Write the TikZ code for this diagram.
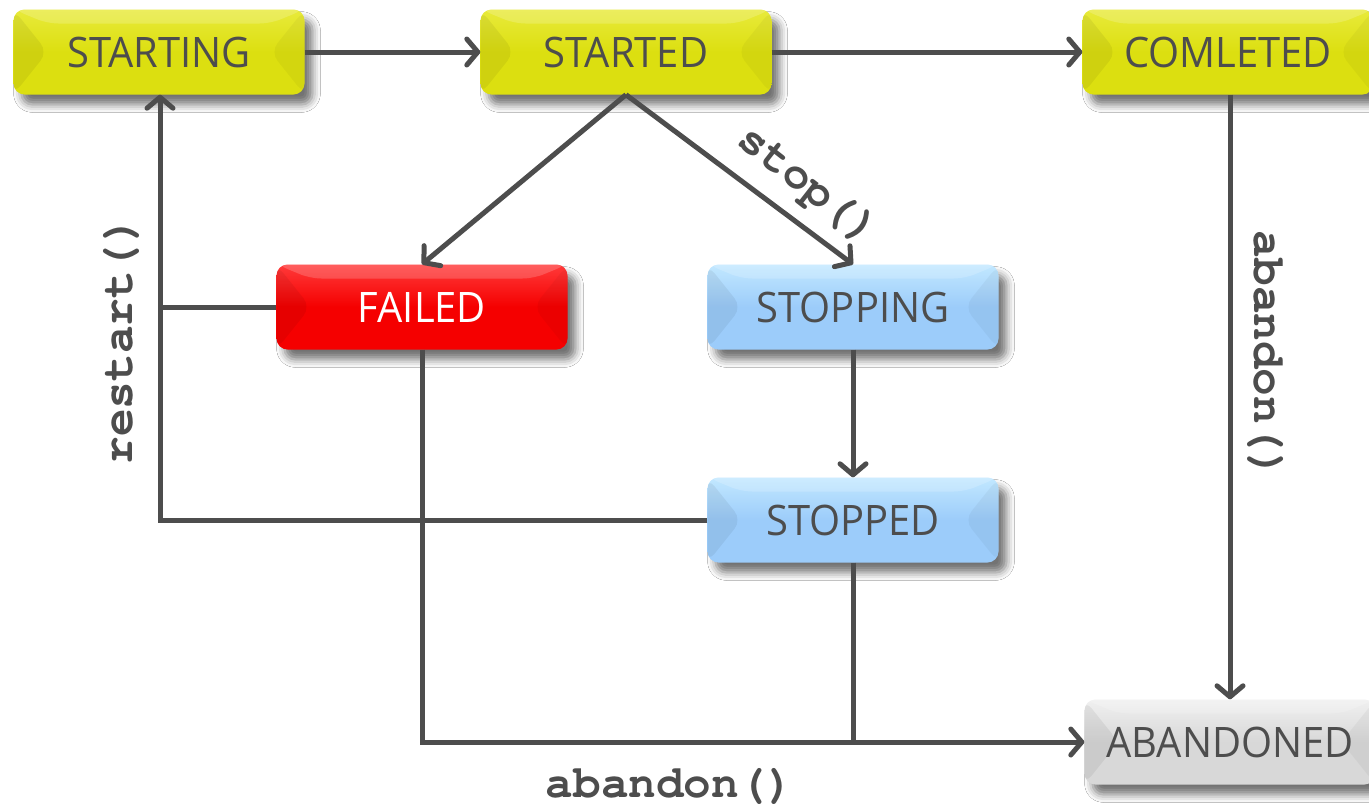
\documentclass[tikz,border=0pt]{standalone}
\usepackage{fontspec}
\setmainfont{Open Sans}[FakeStretch=0.95]
\newfontfamily\codefont{TeX Gyre Cursor}
\usetikzlibrary{arrows.meta,shadows.blur,positioning}
\definecolor{linec}{HTML}{4D4D4D}
\definecolor{txtc}{HTML}{4D4D4D}
\definecolor{yelA}{HTML}{E8EA3A}
\definecolor{yelB}{HTML}{DCDF10}
\definecolor{redA}{HTML}{FF3A3A}
\definecolor{redB}{HTML}{F50000}
\definecolor{bluA}{HTML}{C2E8FF}
\definecolor{bluB}{HTML}{9CCCFA}
\definecolor{gryA}{HTML}{F0F0F0}
\definecolor{gryB}{HTML}{D8D8D8}
\tikzset{
  state/.style={rounded corners=11pt, minimum width=291pt, minimum height=85pt,
    inner sep=0pt, text=txtc, font=\fontsize{42}{46}\selectfont,
    blur shadow={shadow xshift=8pt, shadow yshift=-10pt, shadow blur radius=8pt, shadow opacity=55},
    path picture={
      \fill[black,opacity=0.06] (path picture bounding box.north west) -- ([xshift=34pt]path picture bounding box.west) -- (path picture bounding box.south west) -- cycle;
      \fill[black,opacity=0.04] (path picture bounding box.north east) -- ([xshift=-34pt]path picture bounding box.east) -- (path picture bounding box.south east) -- cycle;
      \fill[white,opacity=0.18] (path picture bounding box.north west) -- ([shift={(34pt,-14pt)}]path picture bounding box.north west) -- ([shift={(-34pt,-14pt)}]path picture bounding box.north east) -- (path picture bounding box.north east) -- cycle;
    }},
  yellowstate/.style={state, top color=yelA, bottom color=yelB, middle color=yelB},
  redstate/.style={state, top color=redA, bottom color=redB, middle color=redB, text=white},
  bluestate/.style={state, top color=bluA, bottom color=bluB, middle color=bluB},
  graystate/.style={state, top color=gryA, bottom color=gryB, middle color=gryB},
  conn/.style={draw=linec, line width=5pt},
  arr/.style={conn, -{Straight Barb[round,length=11pt,width=26pt]}},
  lbl/.style={text=txtc, font=\codefont\bfseries\fontsize{46}{50}\selectfont, inner sep=0pt}
}
\begin{document}
\begin{tikzpicture}[x=1pt,y=-1pt]
\useasboundingbox (0,0) rectangle (1369,807);
\fill[white] (0,0) rectangle (1369,807);

\node[yellowstate] (starting) at (159,52) {STARTING};
\node[yellowstate] (started) at (626,52) {STARTED};
\node[yellowstate] (completed) at (1228,52) {COMLETED};
\node[redstate] (failed) at (422,307) {FAILED};
\node[bluestate] (stopping) at (853,307) {STOPPING};
\node[bluestate] (stopped) at (853,520) {STOPPED};
\node[graystate] (abandoned) at (1230,742) {ABANDONED};

\draw[arr] (starting.east) -- (started.west);
\draw[arr] (started.east) -- (completed.west);
\draw[arr] (started.south) -- (failed.north);
\draw[arr] (started.south) -- (stopping.north);
\draw[arr] (stopping.south) -- (stopped.north);
\draw[arr] (completed.south -| abandoned.north) -- (abandoned.north);

\coordinate (rs) at (160,520);
\coordinate (rf) at (160,307);
\draw[conn] (failed.west) -- (rf);
\draw[arr] (stopped.west) -- (rs) -- (rs |- starting.south);

\coordinate (ab) at (422,742);
\draw[arr] (failed.south) -- (ab) -- (abandoned.west);
\draw[conn] (stopped.south) -- (stopped.south |- ab);

\node[lbl, rotate=90] (lrestart) at (121,340) {restart()};
\node[lbl, rotate=-38] (lstop) at (807,187) {stop()};
\node[lbl, rotate=-90] (labandon1) at (1266,355) {abandon()};
\node[lbl] (labandon2) at (670,786) {abandon()};
\end{tikzpicture}
\end{document}
